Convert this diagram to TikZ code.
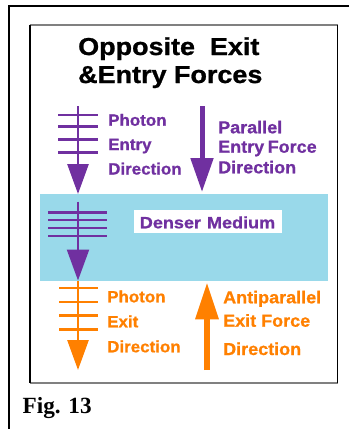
\documentclass[tikz,border=0pt]{standalone}
\usepackage{fontspec}
\setmainfont{Liberation Sans}
\newfontfamily\labfont{Liberation Sans Bold}[FakeStretch=1.04, FakeBold=0.8]
\newfontfamily\titlefont{Liberation Sans Bold}[FakeStretch=1.1, FakeBold=1.0]
\newfontfamily\medfont{Liberation Sans Bold}[FakeStretch=1.1, FakeBold=0.8]
\newfontfamily\figfont{Liberation Serif Bold}
\usetikzlibrary{arrows.meta}
\definecolor{pur}{HTML}{7030A0}
\definecolor{org}{HTML}{FF8000}
\definecolor{med}{HTML}{99D9EA}
\tikzset{
  lab/.style={anchor=base west, inner sep=0pt, font=\labfont\fontsize{16.3}{18}\selectfont},
  rlab/.style={anchor=base west, inner sep=0pt, font=\labfont\fontsize{17.3}{19}\selectfont},
  ttl/.style={anchor=base west, inner sep=0pt, font=\titlefont\fontsize{24.5}{28}\selectfont},
  photon/.style={line width=2.7pt, -{Triangle[length=30pt,width=21pt]}},
  force/.style={line width=5pt, -{Triangle[length=34pt,width=22pt]}},
  bar/.style={line width=2.7pt},
}
\begin{document}
\begin{tikzpicture}[x=1pt,y=-1pt]
\useasboundingbox (0,0) rectangle (349,429);
\fill[white] (0,0) rectangle (349,429);
% outer frame
\draw[line width=1.3pt] (349,6) -- (9,6) -- (9,429);
% inner frame
\draw[black!50, line width=2pt] (29.5,25) -- (338,25);
\draw[black!50, line width=2pt] (29.5,383) -- (338,383);
\draw[line width=1.5pt] (30,25) -- (30,383);
\draw[line width=1.5pt] (337.5,25) -- (337.5,383);
% title
\node[ttl] (t1) at (78,55) {Opposite\ \ Exit};
\node[ttl] (t2) at (78,83) {\&Entry Forces};
% medium
\node[fill=med, minimum width=288pt, minimum height=87pt, inner sep=0pt, anchor=north west] (medium) at (40,194) {};
\node[fill=white, minimum width=148.5pt, minimum height=23pt, inner sep=0pt, anchor=north west] (dbox) at (133.3,209.3) {};
\node[pur, anchor=base, inner sep=0pt, font=\medfont\fontsize{16.4}{18}\selectfont] (dtext) at (207.5,228.3) {Denser\hspace{1pt} Medium};
% photon entry arrow
\coordinate (p1s) at (78,106);
\coordinate (p1e) at (78,194);
\draw[pur, photon] (p1s) -- (p1e);
\foreach \yy in {115,126.7,139.3,152.3} \draw[pur, bar] (58.3,\yy) -- (98.3,\yy);
% photon inside medium
\coordinate (p2s) at (78,201.7);
\coordinate (p2e) at (78,280.5);
\draw[pur, line width=2.3pt, -{Triangle[length=31pt,width=22pt]}] (p2s) -- (p2e);
\foreach \yy in {212.3,220,227.7,235.7} \draw[pur, line width=2.4pt] (48.3,\yy) -- (106.7,\yy);
% photon exit arrow
\coordinate (p3s) at (78,280.7);
\coordinate (p3e) at (78,370);
\draw[org, photon] (p3s) -- (p3e);
\foreach \yy in {288,302,315.7,329.3} \draw[org, bar] (59.3,\yy) -- (97.7,\yy);
% parallel entry force
\coordinate (f1s) at (202,106);
\coordinate (f1e) at (202,192);
\draw[pur, force] (f1s) -- (f1e);
% antiparallel exit force
\coordinate (f2s) at (207,370);
\coordinate (f2e) at (207,282.7);
\draw[org, line width=5.3pt, -{Triangle[length=36.6pt,width=22.3pt]}] (f2s) -- (f2e);
% labels entry
\node[lab, pur] (l1) at (108,125.7) {Photon};
\node[lab, pur] (l2) at (108,150) {Entry};
\node[lab, pur] (l3) at (108,174.5) {Direction};
\node[rlab, pur] (r1) at (218,133.3) {Parallel};
\node[rlab, pur] (r2) at (218,152.7) {Entry\hspace{-1.5pt} Force};
\node[rlab, pur] (r3) at (218,173.3) {Direction};
% labels exit
\node[lab, org] (l4) at (107,302.3) {Photon};
\node[lab, org] (l5) at (107,327.3) {Exit};
\node[lab, org] (l6) at (107,352.3) {Direction};
\node[rlab, org] (r4) at (223,303.3) {Antiparallel};
\node[rlab, org] (r5) at (223,326.7) {Exit Force};
\node[rlab, org] (r6) at (223,355) {Direction};
% caption
\node[anchor=base west, inner sep=0pt, font=\figfont\fontsize{23.2}{26}\selectfont] (fig) at (22.5,413) {Fig. 13};
\end{tikzpicture}
\end{document}
